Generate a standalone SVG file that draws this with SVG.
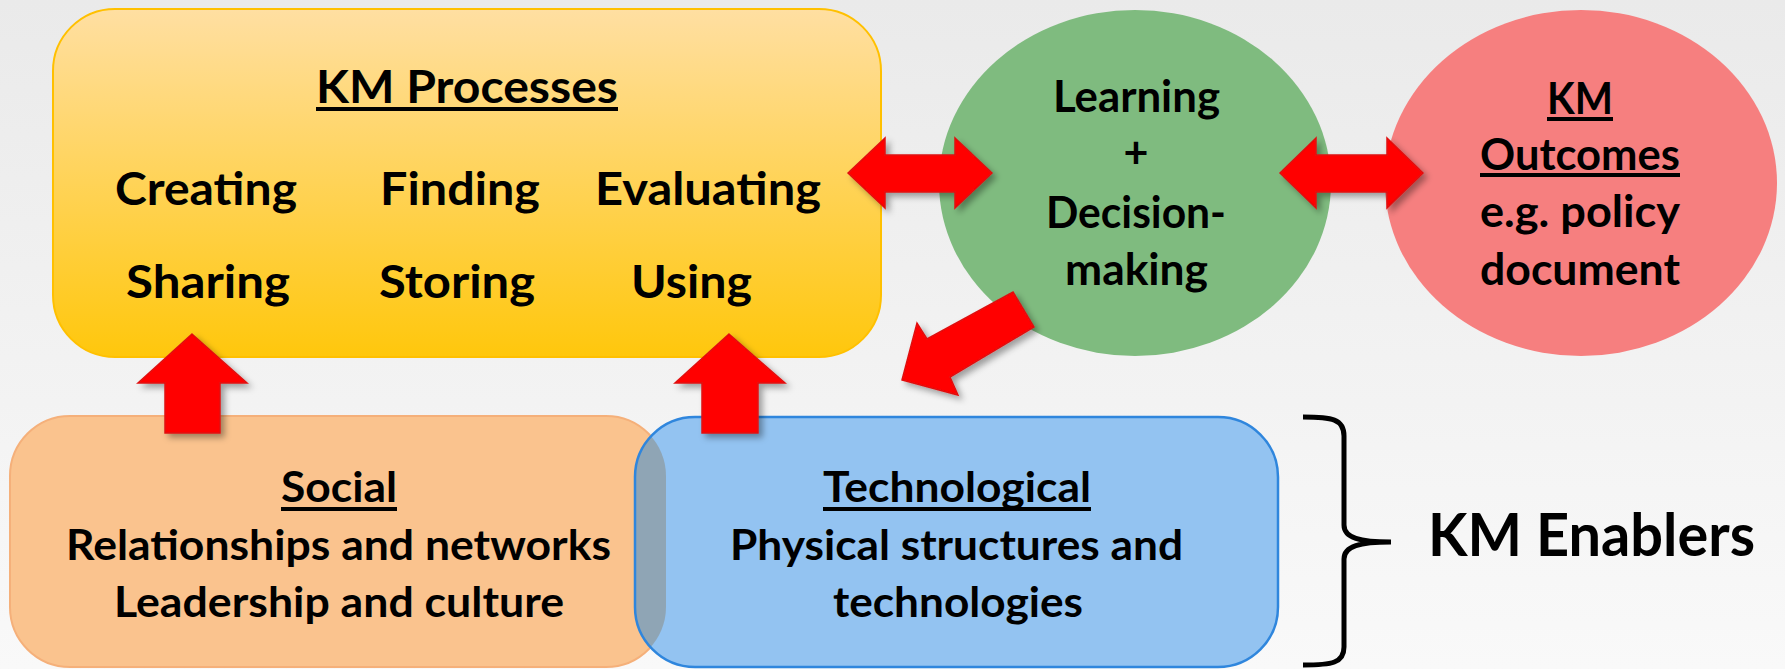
<svg xmlns="http://www.w3.org/2000/svg" width="1785" height="669" viewBox="0 0 1785 669">
  <defs>
    <linearGradient id="bg" x1="0" y1="0" x2="0" y2="1">
      <stop offset="0" stop-color="#EAEAEA"/>
      <stop offset="1" stop-color="#F9F9F9"/>
    </linearGradient>
    <linearGradient id="procFill" x1="0" y1="0" x2="0" y2="1">
      <stop offset="0" stop-color="#FFDFA2"/>
      <stop offset="1" stop-color="#FFC70C"/>
    </linearGradient>
    <filter id="arrowShadow" x="-30%" y="-30%" width="160%" height="160%">
      <feDropShadow dx="4" dy="4" stdDeviation="3" flood-color="#000" flood-opacity="0.35"/>
    </filter>
    <clipPath id="techClip">
      <rect x="635" y="417" width="643" height="250" rx="60" ry="60"/>
    </clipPath>
    <style>
      .t { font-family: Lato, "Open Sans", "Liberation Sans", sans-serif; font-weight: 700; fill: #000; }
      .proc { font-size: 46px; }
      .mid { font-size: 43px; }
      .low { font-size: 42px; }
      .big { font-size: 59px; }
      .ul { fill: #000; }
      .arrow { fill: #FF0000; stroke: #E01010; stroke-width: 1.5; stroke-linejoin: miter; filter: url(#arrowShadow); }
    </style>
  </defs>

  <!-- backdrop -->
  <rect x="0" y="0" width="1785" height="669" fill="url(#bg)"/>

  <!-- KM processes -->
  <g id="processes">
    <rect x="53" y="9" width="828" height="348" rx="62" ry="62" fill="url(#procFill)" stroke="#FFC000" stroke-width="2"/>
    <text class="t proc" x="316" y="103" textLength="302" lengthAdjust="spacingAndGlyphs">KM Processes</text>
    <rect class="ul" x="316" y="107" width="302" height="4"/>
    <text class="t proc" x="115" y="205" textLength="182" lengthAdjust="spacingAndGlyphs">Creating</text>
    <text class="t proc" x="380" y="205" textLength="160" lengthAdjust="spacingAndGlyphs">Finding</text>
    <text class="t proc" x="595" y="205" textLength="226" lengthAdjust="spacingAndGlyphs">Evaluating</text>
    <text class="t proc" x="126" y="298" textLength="164" lengthAdjust="spacingAndGlyphs">Sharing</text>
    <text class="t proc" x="379" y="298" textLength="156" lengthAdjust="spacingAndGlyphs">Storing</text>
    <text class="t proc" x="631" y="298" textLength="121" lengthAdjust="spacingAndGlyphs">Using</text>
  </g>

  <!-- learning and decision-making -->
  <g id="learning">
    <ellipse cx="1135" cy="183" rx="196" ry="173" fill="#7FBB7F"/>
    <text class="t mid" x="1053" y="112" textLength="167" lengthAdjust="spacingAndGlyphs">Learning</text>
    <text class="t mid" x="1136" y="168" text-anchor="middle">+</text>
    <text class="t mid" x="1046" y="228" textLength="180" lengthAdjust="spacingAndGlyphs">Decision-</text>
    <text class="t mid" x="1065" y="285" textLength="143" lengthAdjust="spacingAndGlyphs">making</text>
  </g>

  <!-- outcomes -->
  <g id="outcomes">
    <ellipse cx="1581" cy="183" rx="196" ry="173" fill="#F67F7F"/>
    <text class="t mid" x="1547" y="114" textLength="66" lengthAdjust="spacingAndGlyphs">KM</text>
    <rect class="ul" x="1547" y="117" width="66" height="4"/>
    <text class="t mid" x="1480" y="170" textLength="200" lengthAdjust="spacingAndGlyphs">Outcomes</text>
    <rect class="ul" x="1480" y="173" width="200" height="4"/>
    <text class="t mid" x="1480" y="227" textLength="200" lengthAdjust="spacingAndGlyphs">e.g. policy</text>
    <text class="t mid" x="1480" y="285" textLength="200" lengthAdjust="spacingAndGlyphs">document</text>
  </g>

  <!-- social enabler -->
  <g id="social">
    <rect x="10" y="416" width="656" height="251" rx="60" ry="60" fill="#FAC38E" stroke="#F5B07A" stroke-width="2"/>
    <text class="t low" x="281" y="502" textLength="116" lengthAdjust="spacingAndGlyphs">Social</text>
    <rect class="ul" x="281" y="507" width="116" height="4"/>
    <text class="t low" x="66" y="560" textLength="545" lengthAdjust="spacingAndGlyphs">Relationships and networks</text>
    <text class="t low" x="114" y="617" textLength="450" lengthAdjust="spacingAndGlyphs">Leadership and culture</text>
  </g>

  <!-- technological enabler -->
  <g id="technological">
    <rect x="635" y="417" width="643" height="250" rx="60" ry="60" fill="#93C3F1"/>
    <!-- area shared with the social box -->
    <rect x="10" y="416" width="656" height="251" rx="60" ry="60" fill="#8FA5B5" clip-path="url(#techClip)"/>
    <rect x="635" y="417" width="643" height="250" rx="60" ry="60" fill="none" stroke="#2F86DD" stroke-width="2.5"/>
    <text class="t low" x="823" y="502" textLength="268" lengthAdjust="spacingAndGlyphs">Technological</text>
    <rect class="ul" x="823" y="507" width="268" height="4"/>
    <text class="t low" x="730" y="560" textLength="453" lengthAdjust="spacingAndGlyphs">Physical structures and</text>
    <text class="t low" x="833" y="617" textLength="250" lengthAdjust="spacingAndGlyphs">technologies</text>
  </g>

  <!-- enablers label with brace -->
  <g id="enablers">
    <path d="M1303,417 C1332,417 1344,419 1344,436 L1344,525 C1344,538 1360,542 1391,542 C1360,542 1344,546 1344,559 L1344,647 C1344,663 1332,665 1303,665" fill="none" stroke="#000" stroke-width="5"/>
    <text class="t big" x="1428" y="556" textLength="327" lengthAdjust="spacingAndGlyphs">KM Enablers</text>
  </g>

  <!-- connectors -->
  <g id="connectors">
    <polygon class="arrow" points="848,173 885,138 885,155 955,155 955,138 992,173 955,208 955,192 885,192 885,208"/>
    <polygon class="arrow" points="1280,173 1316,138 1316,155 1387,155 1387,138 1423,173 1387,208 1387,192 1316,192 1316,208"/>
    <polygon class="arrow" points="1013,292 1034,327 950,377 958,395 902,380 917,323 927,339"/>
    <polygon class="arrow" points="192,334 247,383 220,383 220,433 165,433 165,383 138,383"/>
    <polygon class="arrow" points="729,334 785,383 758,383 758,433 702,433 702,383 675,383"/>
  </g>
</svg>
